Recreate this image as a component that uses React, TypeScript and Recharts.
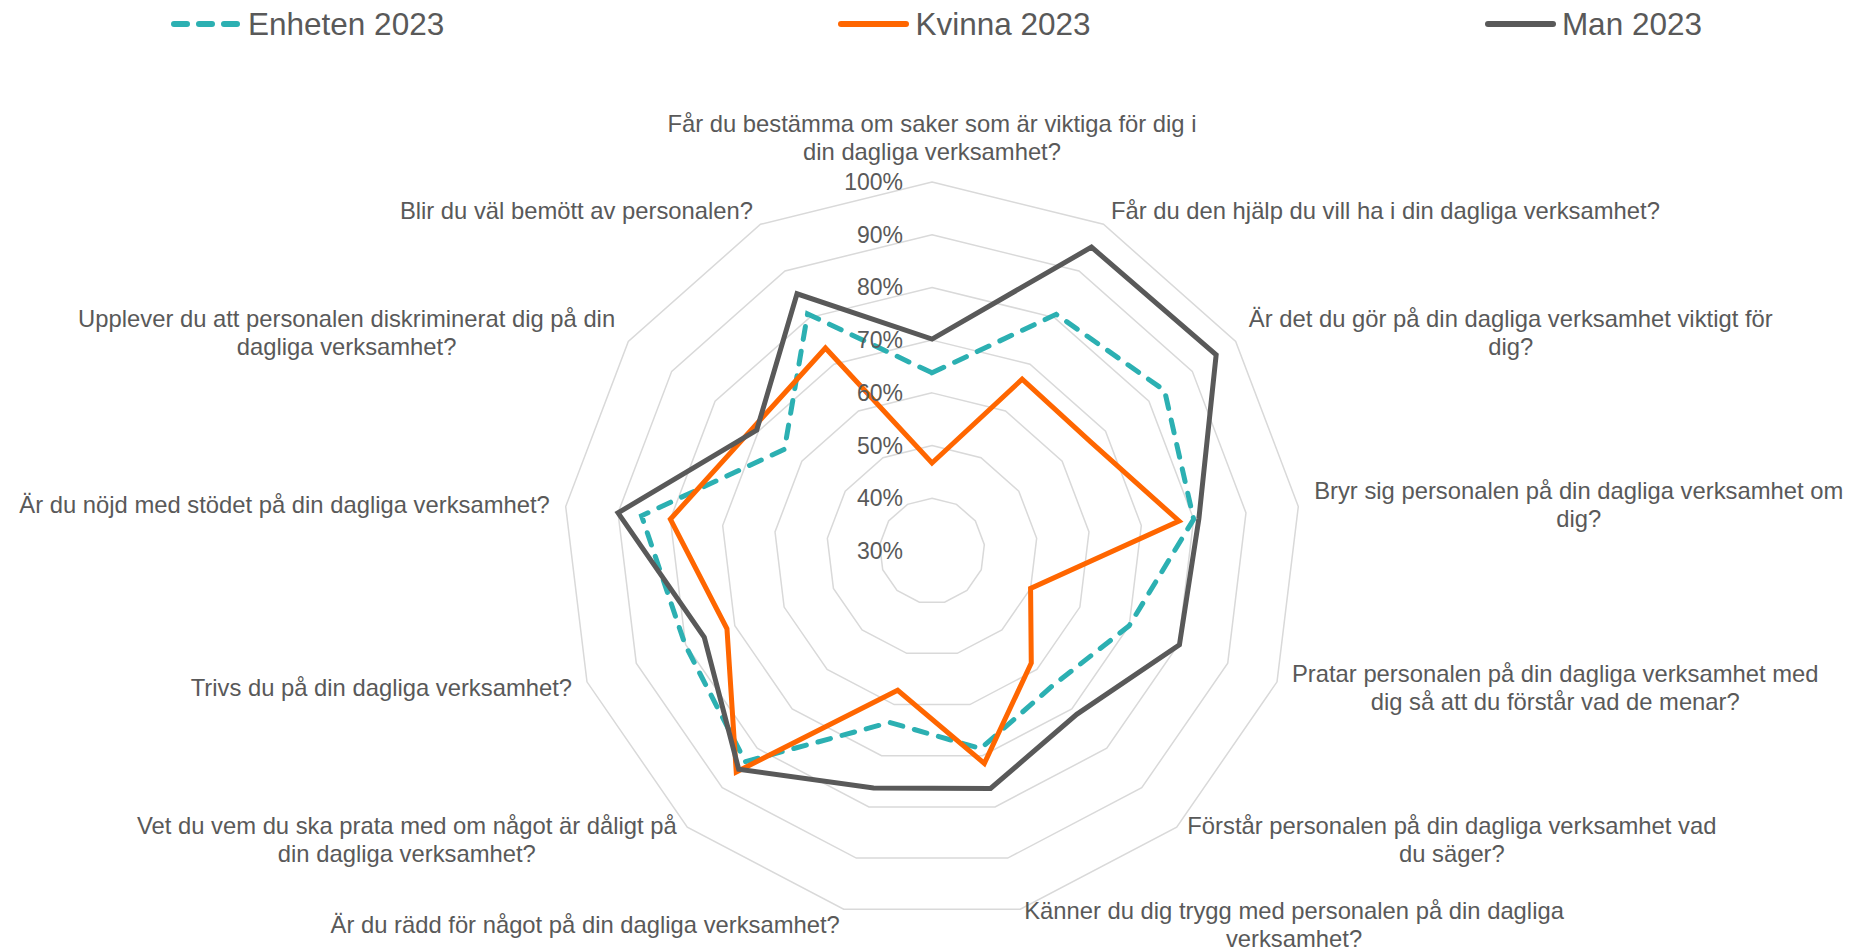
import { RadarChart, Radar, PolarGrid, PolarAngleAxis, PolarRadiusAxis } from "recharts"

const categories = [
  "Får du bestämma om saker som är viktiga för dig i\ndin dagliga verksamhet?",
  "Får du den hjälp du vill ha i din dagliga verksamhet?",
  "Är det du gör på din dagliga verksamhet viktigt för\ndig?",
  "Bryr sig personalen på din dagliga verksamhet om\ndig?",
  "Pratar personalen på din dagliga verksamhet med\ndig så att du förstår vad de menar?",
  "Förstår personalen på din dagliga verksamhet vad\ndu säger?",
  "Känner du dig trygg med personalen på din dagliga\nverksamhet?",
  "Är du rädd för något på din dagliga verksamhet?",
  "Vet du vem du ska prata med om något är dåligt på\ndin dagliga verksamhet?",
  "Trivs du på din dagliga verksamhet?",
  "Är du nöjd med stödet på din dagliga verksamhet?",
  "Upplever du att personalen diskriminerat dig på din\ndagliga verksamhet?",
  "Blir du väl bemött av personalen?",
]

const enheten = [63.8, 80.7, 83.6, 80, 70, 64.3, 68.6, 63.5, 83.4, 80.1, 85.5, 64, 80.8]
const kvinna = [46.7, 66.8, 66.5, 77.2, 50, 58.4, 71.5, 57.2, 86, 71.6, 80, 71.2, 73.5]
const man = [70.2, 95.1, 95.5, 81, 80.2, 71.4, 76.4, 76.3, 85.3, 76.2, 90, 70.4, 85.1]

const series = [
  { key: "enheten", name: "Enheten 2023", color: "#2CB0B2", dash: "13 12" },
  { key: "kvinna", name: "Kvinna 2023", color: "#FF6600", dash: undefined },
  { key: "man", name: "Man 2023", color: "#595959", dash: undefined },
]

const data = categories.map((category, i) => ({
  category,
  enheten: enheten[i],
  kvinna: kvinna[i],
  man: man[i],
}))

// chart is pinned to the page corner, so these are page pixels
const W = 1850
const H = 949
const CX = 932
const CY = 551
const R = 369
const FONT = "'Liberation Sans', Arial, sans-serif"
const TEXT = "#595959"
const LABEL_SIZE = 23.8
const LINE_H = 28.3

let ctx: CanvasRenderingContext2D | null = null
function measure(s: string) {
  if (!ctx) {
    ctx = document.createElement("canvas").getContext("2d")
  }
  if (!ctx) return s.length * LABEL_SIZE * 0.5
  ctx.font = `${LABEL_SIZE}px ${FONT}`
  return ctx.measureText(s).width
}

function AngleTick(props: any) {
  const { payload } = props
  const lines: string[] = String(payload.value).split("\n")
  const rad = (payload.coordinate * Math.PI) / 180
  const ux = Math.cos(rad)
  const uy = -Math.sin(rad)
  const px = CX + (R + 16) * ux
  const py = CY + (R + 16) * uy
  const w = Math.max(...lines.map(measure))
  let bx = px
  let ys: number[]
  if (Math.abs(ux) < 0.01) {
    ys = lines.map((_, i) => py - LINE_H / 2 - (lines.length - 1 - i) * LINE_H)
  } else {
    bx = ux > 0 ? px + w / 2 : px - w / 2
    ys = lines.map((_, i) => py + (i - (lines.length - 1) / 2) * LINE_H)
  }
  return (
    <g>
      {lines.map((line, i) => (
        <text
          key={i}
          x={bx}
          y={ys[i]}
          textAnchor="middle"
          dominantBaseline="central"
          fontFamily={FONT}
          fontSize={LABEL_SIZE}
          fill={TEXT}
        >
          {line}
        </text>
      ))}
    </g>
  )
}

function RadiusTick(props: any) {
  const { x, y, payload } = props
  return (
    <text x={x - 29} y={y} textAnchor="end" dominantBaseline="central" fontFamily={FONT} fontSize={23} fill={TEXT}>
      {payload.value}%
    </text>
  )
}

function LegendRow() {
  return (
    <div
      style={{
        position: "absolute",
        top: 8,
        left: 171,
        width: 1531,
        height: 32,
        display: "flex",
        justifyContent: "space-between",
        alignItems: "center",
        fontFamily: FONT,
        fontSize: 31.5,
        color: TEXT,
      }}
    >
      {series.map((s) => (
        <div key={s.key} style={{ display: "flex", alignItems: "center" }}>
          <svg width={71} height={12} style={{ marginRight: 6 }}>
            <line
              x1={3}
              y1={6}
              x2={68}
              y2={6}
              stroke={s.color}
              strokeWidth={6}
              strokeLinecap="round"
              strokeDasharray={s.dash}
            />
          </svg>
          <span>{s.name}</span>
        </div>
      ))}
    </div>
  )
}

export default function App() {
  return (
    <div style={{ position: "absolute", top: 0, left: 0, width: W, height: H, overflow: "hidden" }}>
      <RadarChart width={W} height={H} data={data} cx={CX} cy={CY} outerRadius={R} margin={{ top: 0, right: 0, bottom: 0, left: 0 }}>
        <PolarGrid gridType="polygon" radialLines={false} stroke="#D9D9D9" strokeWidth={1.5} />
        <PolarAngleAxis dataKey="category" tick={<AngleTick />} tickLine={false} axisLine={false} />
        <PolarRadiusAxis
          angle={90}
          type="number"
          domain={[30, 100]}
          tickCount={8}
          axisLine={false}
          tick={<RadiusTick />}
        />
        {series.map((s) => (
          <Radar
            key={s.key}
            name={s.name}
            dataKey={s.key}
            stroke={s.color}
            strokeWidth={5}
            strokeDasharray={s.dash}
            strokeLinecap={s.dash ? "round" : "butt"}
            fill="none"
            fillOpacity={0}
            dot={false}
            isAnimationActive={false}
          />
        ))}
      </RadarChart>
      <LegendRow />
    </div>
  )
}
